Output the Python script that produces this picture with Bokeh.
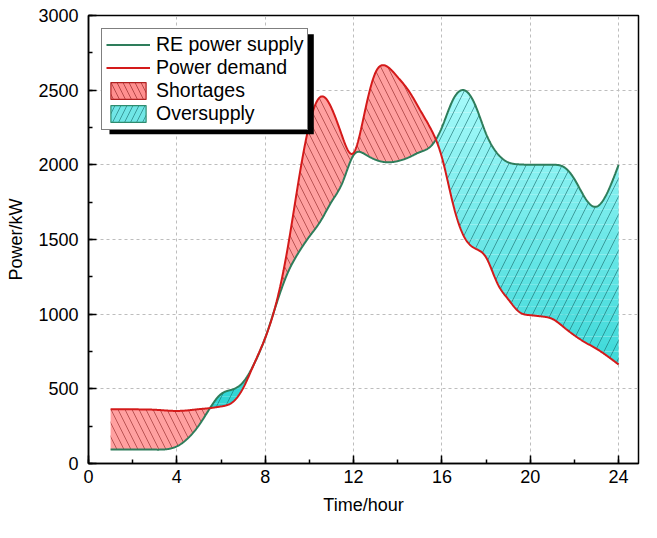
import numpy as np
from bokeh.plotting import figure
from bokeh.models import (Legend, LegendItem, BoxAnnotation, SingleIntervalTicker, Range1d)
from bokeh.embed import file_html
from bokeh.resources import INLINE

# ---- data (half-hour readings) ----
hours = [1.0, 1.5, 2.0, 2.5, 3.0, 3.5, 4.0, 4.5, 5.0, 5.5, 6.0, 6.5, 7.0, 7.5, 8.0, 8.5,
         9.0, 9.5, 10.0, 10.5, 11.0, 11.5, 12.0, 12.5, 13.0, 13.5, 14.0, 14.5, 15.0, 15.5,
         16.0, 16.5, 17.0, 17.5, 18.0, 18.5, 19.0, 19.5, 20.0, 20.5, 21.0, 21.5, 22.0, 22.5,
         23.0, 23.5, 24.0]
re_supply = [93, 93, 93, 93, 93, 95, 115, 169, 256, 371, 465, 495, 545, 668, 841, 1065,
             1270, 1410, 1520, 1622, 1752, 1882, 2065, 2072, 2034, 2017, 2025, 2050, 2085, 2125,
             2251, 2435, 2500, 2403, 2208, 2078, 2017, 2003, 2000, 2000, 2000, 1987, 1904, 1774,
             1720, 1817, 2000]
demand = [364, 364, 363, 362, 360, 355, 352, 356, 364, 371, 382, 408, 505, 668, 841, 1075,
          1428, 1883, 2273, 2455, 2381, 2186, 2080, 2349, 2620, 2660, 2587, 2495, 2370, 2240,
          2050, 1740, 1520, 1440, 1380, 1210, 1100, 1015, 993, 985, 968, 915, 858, 810,
          768, 718, 663]
legend_labels = ["RE power supply", "Power demand", "Shortages", "Oversupply"]


def natural_spline(x, y, xs):
    x = np.asarray(x, float); y = np.asarray(y, float)
    n = len(x)
    h = np.diff(x)
    A = np.zeros((n, n)); b = np.zeros(n)
    A[0, 0] = 1; A[-1, -1] = 1
    for i in range(1, n - 1):
        A[i, i - 1] = h[i - 1]
        A[i, i] = 2 * (h[i - 1] + h[i])
        A[i, i + 1] = h[i]
        b[i] = 3 * ((y[i + 1] - y[i]) / h[i] - (y[i] - y[i - 1]) / h[i - 1])
    c = np.linalg.solve(A, b)
    bb = (y[1:] - y[:-1]) / h - h * (2 * c[:-1] + c[1:]) / 3
    d = (c[1:] - c[:-1]) / (3 * h)
    idx = np.clip(np.searchsorted(x, xs, side="right") - 1, 0, n - 2)
    t = xs - x[idx]
    return y[idx] + bb[idx] * t + c[idx] * t ** 2 + d[idx] * t ** 3


xs = np.linspace(hours[0], hours[-1], 1200)
sup = natural_spline(hours, re_supply, xs)
dem = natural_spline(hours, demand, xs)

GREEN = "#2e7d5b"
RED = "#d41a1a"
FONT = "Liberation Sans"

p = figure(width=641, height=522, output_backend="svg", toolbar_location=None,
           x_range=Range1d(0, 24.9), y_range=Range1d(0, 3000),
           min_border_left=88, min_border_right=3, min_border_top=15, min_border_bottom=59)
p.background_fill_color = "white"
p.border_fill_color = "white"
p.outline_line_color = "black"
p.outline_line_width = 1.5

# Shortages (demand above supply)
short_top = np.maximum(dem, sup)
p.varea(x=xs, y1=sup, y2=short_top, fill_color="#ffa0a0", fill_alpha=1.0,
        hatch_pattern="\\", hatch_color="#8b2020", hatch_alpha=0.75, hatch_weight=0.8,
        hatch_scale=14)

# Oversupply (supply above demand) - vertical gradient by bands
over_top = np.maximum(sup, dem)
y_lo, y_hi = 300.0, 2600.0
c_lo = np.array([40, 210, 210]); c_hi = np.array([172, 252, 252])
band = 50
for yb in np.arange(0, 2700, band):
    frac = np.clip((yb + band / 2 - y_lo) / (y_hi - y_lo), 0, 1)
    col = c_lo + (c_hi - c_lo) * frac
    colhex = "#%02x%02x%02x" % tuple(int(round(v)) for v in col)
    lo = np.clip(dem, yb, yb + band)
    hi = np.clip(over_top, yb, yb + band)
    if np.any(hi - lo > 0):
        p.varea(x=xs, y1=lo, y2=hi, fill_color=colhex)
p.varea(x=xs, y1=dem, y2=over_top, fill_color=None, fill_alpha=0,
        hatch_pattern="/", hatch_color="#1a6e6e", hatch_alpha=0.7, hatch_weight=0.9,
        hatch_scale=18)

r_sup = p.line(xs, sup, line_color=GREEN, line_width=2)
r_dem = p.line(xs, dem, line_color=RED, line_width=2)

# legend proxies (no visible data)
nan_pt = [float("nan")]
r_short = p.quad(left=nan_pt, right=nan_pt, top=nan_pt, bottom=nan_pt, fill_color="#ff8f8f",
                 line_color="#b02020", line_width=1.2, hatch_pattern="\\",
                 hatch_color="#8b2020", hatch_alpha=0.8, hatch_weight=0.8, hatch_scale=12)
r_over = p.quad(left=nan_pt, right=nan_pt, top=nan_pt, bottom=nan_pt, fill_color="#70e6e6",
                line_color="#2e8b6e", line_width=1.2, hatch_pattern="/",
                hatch_color="#1a6e6e", hatch_alpha=0.8, hatch_weight=0.8, hatch_scale=12)

# Axes
for ax in (p.xaxis[0], p.yaxis[0]):
    ax.axis_line_width = 1.5
    ax.axis_line_color = "black"
    ax.major_tick_in = 8
    ax.major_tick_out = 0
    ax.minor_tick_in = 4
    ax.minor_tick_out = 0
    ax.major_tick_line_width = 1.5
    ax.minor_tick_line_width = 1.5
    ax.major_tick_line_color = "black"
    ax.minor_tick_line_color = "black"
    ax.major_label_text_font = FONT
    ax.major_label_text_font_size = "18px"
    ax.major_label_text_color = "black"
    ax.axis_label_text_font = FONT
    ax.axis_label_text_font_size = "18px"
    ax.axis_label_text_font_style = "normal"
    ax.axis_label_text_color = "black"

p.xaxis[0].ticker = SingleIntervalTicker(interval=4, num_minor_ticks=2)
p.yaxis[0].ticker = SingleIntervalTicker(interval=500, num_minor_ticks=2)
p.xaxis[0].axis_label = "Time/hour"
p.yaxis[0].axis_label = "Power/kW"
p.xaxis[0].major_label_standoff = 6
p.yaxis[0].major_label_standoff = 10
p.xaxis[0].axis_label_standoff = 9
p.yaxis[0].axis_label_standoff = 9

p.xgrid[0].ticker = p.xaxis[0].ticker
p.ygrid[0].ticker = p.yaxis[0].ticker
for g in (p.xgrid[0], p.ygrid[0]):
    g.grid_line_color = "#bdbdbd"
    g.grid_line_dash = "3 3"
    g.grid_line_width = 1

# Legend shadow
shadow = BoxAnnotation(left=0.95, right=10.2, top=2874, bottom=2205,
                       fill_color="black", fill_alpha=1.0, line_color=None)
p.add_layout(shadow)

legend = Legend(items=[
    LegendItem(label=legend_labels[0], renderers=[r_sup]),
    LegendItem(label=legend_labels[1], renderers=[r_dem]),
    LegendItem(label=legend_labels[2], renderers=[r_short]),
    LegendItem(label=legend_labels[3], renderers=[r_over]),
], location="top_left")
legend.margin = 13
legend.padding = 4
legend.spacing = 0
legend.glyph_width = 44
legend.glyph_height = 21
legend.label_standoff = 6
legend.label_height = 21
legend.label_text_font = FONT
legend.label_text_font_size = "19.5px"
legend.label_text_color = "black"
legend.border_line_color = "black"
legend.border_line_width = 1
legend.background_fill_color = "white"
legend.background_fill_alpha = 1.0
p.add_layout(legend)

open("out.html", "w").write(file_html(p, INLINE))
